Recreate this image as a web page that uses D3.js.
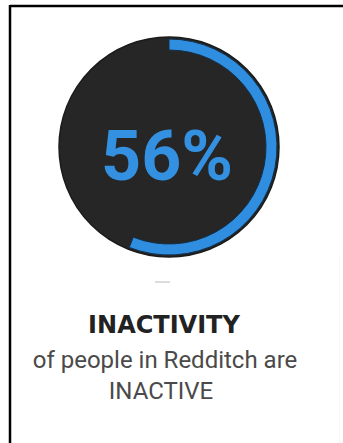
<!DOCTYPE html>
<html>
<head>
<meta charset="utf-8">
<script src="https://cdn.jsdelivr.net/npm/d3@7"></script>
<style>
  html, body { margin: 0; padding: 0; background: #ffffff; }
  svg { display: block; }
</style>
</head>
<body>
<div id="chart"></div>
<script>
// Share of Redditch residents who are inactive
const metricValue = [56];
const metricMax = [100];
const valueLabels = ["56%"];
const titleLines = ["INACTIVITY"];
const captionLines = ["of people in Redditch are", "INACTIVE"];

const W = 343, H = 443;
const svg = d3.select("#chart").append("svg")
  .attr("width", W).attr("height", H);

// card frame: heavy rule on top and left, faint rule on the right
svg.append("line").attr("x1", 10).attr("y1", 6).attr("x2", W).attr("y2", 6)
  .attr("stroke", "#000").attr("stroke-width", 2.5);
svg.append("line").attr("x1", 10).attr("y1", 5).attr("x2", 10).attr("y2", H)
  .attr("stroke", "#000").attr("stroke-width", 2.5);
svg.append("line").attr("x1", 339.5).attr("y1", 255).attr("x2", 339.5).attr("y2", H)
  .attr("stroke", "#f6f6f6").attr("stroke-width", 1);

const cx = 169, cy = 147, R = 110;
const g = svg.append("g").attr("transform", `translate(${cx},${cy})`);

// dark disc
g.append("circle").attr("r", R).attr("fill", "#262626")
  .attr("stroke", "#1b1b1b").attr("stroke-width", 1.5);

// progress ring
const angle = d3.scaleLinear().domain([0, metricMax[0]]).range([0, 2 * Math.PI]);
const ring = d3.arc().innerRadius(R - 13).outerRadius(R - 2);
g.append("path")
  .datum({ startAngle: 0, endAngle: angle(metricValue[0]) })
  .attr("d", ring)
  .attr("fill", "#2f8ee0")
  .attr("stroke", "#14304a").attr("stroke-width", 1);

// value in the middle
g.selectAll("text.value").data(valueLabels).join("text")
  .attr("class", "value")
  .attr("x", -2).attr("y", 33)
  .attr("text-anchor", "middle")
  .attr("font-family", "Roboto, sans-serif")
  .attr("font-weight", 700)
  .attr("font-size", 70)
  .attr("fill", "#3490e0")
  .text(d => d);

// small divider under the ring
svg.append("line").attr("x1", 155).attr("y1", 282).attr("x2", 170).attr("y2", 282)
  .attr("stroke", "#d0d0d0").attr("stroke-width", 1.5);

svg.selectAll("text.title").data(titleLines).join("text")
  .attr("class", "title")
  .attr("x", 164).attr("y", 333)
  .attr("text-anchor", "middle")
  .attr("font-family", "'DejaVu Sans', sans-serif")
  .attr("font-weight", 700)
  .attr("font-size", 24)
  .attr("fill", "#222")
  .text(d => d);

svg.selectAll("text.caption").data(captionLines).join("text")
  .attr("class", "caption")
  .attr("x", (d, i) => i === 0 ? 165 : 161)
  .attr("y", (d, i) => 368 + i * 31)
  .attr("text-anchor", "middle")
  .attr("font-family", "Roboto, sans-serif")
  .attr("font-size", 24)
  .attr("fill", "#4a4a4a")
  .text(d => d);
</script>
</body>
</html>
